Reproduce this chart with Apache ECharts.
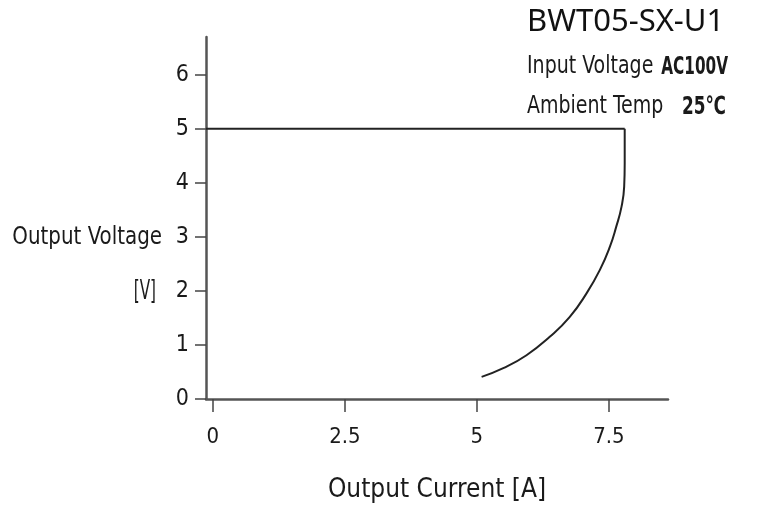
<!DOCTYPE html>
<html><head><meta charset="utf-8">
<script src="https://cdn.jsdelivr.net/npm/echarts@6/dist/echarts.min.js"></script>
<style>html,body{margin:0;padding:0;background:#fff}#c{width:757px;height:508px}</style>
</head><body><div id="c"></div>
<script>
const xTicks = [0, 2.5, 5, 7.5];
const yTicks = [0, 1, 2, 3, 4, 5, 6];
const flatPart = [[-0.13, 5], [7.80, 5]];
const droopPart = [[7.80, 5], [7.80, 4.36], [7.79, 3.93], [7.74, 3.56], [7.64, 3.19], [7.52, 2.82], [7.33, 2.39], [7.08, 1.96], [6.76, 1.52], [6.38, 1.15], [5.94, 0.81], [5.50, 0.57], [5.09, 0.41]];
const title = 'BWT05-SX-U1';
const notes = [['Input Voltage', 'AC100V'], ['Ambient Temp', '25℃']];
const xName = 'Output Current [A]';
const yName = ['Output Voltage', '[V]'];

const cond = '"DejaVu Sans Condensed", "DejaVu Sans", sans-serif';
const chart = echarts.init(document.getElementById('c'));
function txt(x, y, text, size, sx, weight, align) {
  return { type: 'text', x: x, y: y, scaleX: sx, scaleY: 1,
    style: { text: text, fontFamily: cond, fontSize: size, fontWeight: weight || 'normal',
      fill: '#1a1a1a', align: align || 'left', verticalAlign: 'middle' } };
}
chart.setOption({
  animation: false,
  backgroundColor: '#fff',
  grid: { left: 206, right: 89, top: 37, bottom: 109, containLabel: false, outerBoundsMode: 'none' },
  xAxis: {
    type: 'value', min: -0.13, max: 8.62,
    splitLine: { show: false },
    axisLine: { onZero: false, lineStyle: { color: '#555', width: 2.5 } },
    axisTick: { customValues: xTicks, length: 13, lineStyle: { color: '#444', width: 1.5 } },
    axisLabel: { customValues: xTicks, margin: 27, color: '#1a1a1a', fontFamily: cond, fontSize: 22 },
    name: xName, nameLocation: 'middle', nameGap: 78,
    nameTextStyle: { color: '#1a1a1a', fontFamily: cond, fontSize: 26 }
  },
  yAxis: {
    type: 'value', min: 0, max: 6.7,
    splitLine: { show: false },
    axisLine: { onZero: false, lineStyle: { color: '#555', width: 2.5 } },
    axisTick: { show: true, customValues: yTicks, length: 11, lineStyle: { color: '#444', width: 1.5 } },
    axisLabel: { customValues: yTicks, margin: 17, color: '#1a1a1a', fontFamily: cond, fontSize: 23 }
  },
  graphic: [
    { type: 'text', x: 527, y: 22, style: { text: title, fontFamily: '"Noto Sans", "Open Sans", sans-serif', fontSize: 31, fill: '#111', align: 'left', verticalAlign: 'middle' } },
    txt(527, 67, notes[0][0], 24, 0.88),
    txt(728, 67, notes[0][1], 25, 0.68, 'bold', 'right'),
    txt(527, 107, notes[1][0], 24, 0.88),
    txt(726, 107, notes[1][1], 25, 0.75, 'bold', 'right'),
    txt(162, 238, yName[0], 24, 0.92, 'normal', 'right'),
    txt(156, 292, yName[1], 26, 0.65, 'normal', 'right')
  ],
  series: [
    { type: 'line', data: flatPart, symbol: 'none', lineStyle: { color: '#222', width: 2 } },
    { type: 'line', data: droopPart, symbol: 'none', smooth: 0.5, lineStyle: { color: '#222', width: 2 } }
  ]
});
</script></body></html>
